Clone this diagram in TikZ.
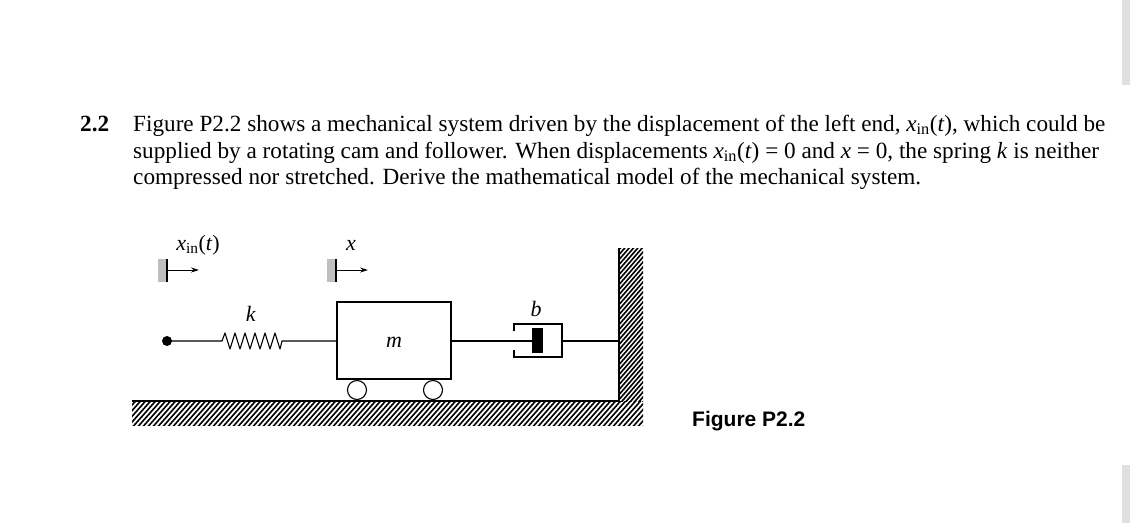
\documentclass[tikz,border=0pt]{standalone}
\usepackage{fontspec}
\setmainfont{Liberation Serif}
\newfontfamily\figsans{Liberation Sans}
\usetikzlibrary{arrows.meta}
\tikzset{
  txt/.style={anchor=base west,inner sep=0pt,font=\fontsize{23.2}{27}\selectfont},
  lbl/.style={inner sep=0pt,font=\fontsize{22}{26}\selectfont},
  ln/.style={line width=1.1pt},
  arr/.style={line width=0.9pt,-{Stealth[length=8pt,width=5pt]}},
  blk/.style={fill=black!25,draw=none},
}
\newcommand{\xin}{\textit{x}\textsubscript{in}(\textit{t})}
\begin{document}
\begin{tikzpicture}[x=1pt,y=-1pt]
\useasboundingbox (0,0) rectangle (1130,523);
\fill[black!12] (1122,0) rectangle (1130,85);
\fill[black!12] (1122,465) rectangle (1130,523);
% text
\node[txt,font=\bfseries\fontsize{23.2}{27}\selectfont] (num) at (80,131) {2.2};
\node[txt] (l1) at (133,131) {Figure P2.2 shows a mechanical system driven by the displacement of the left end, \xin, which could be};
\node[txt] (l2) at (133,158) {supplied by a rotating cam and follower. When displacements \xin\ = 0 and \textit{x} = 0, the spring \textit{k} is neither};
\node[txt] (l3) at (133,184) {compressed nor stretched. Derive the mathematical model of the mechanical system.};
% ground and wall hatching
\begin{scope}
\clip (132,401) rectangle (643,425);
\foreach \i in {0,5,...,560} \draw[line width=1.6pt] (100+\i,430) -- (130+\i,396);
\end{scope}
\begin{scope}
\clip (619,248) rectangle (643,401);
\foreach \i in {0,5,...,200} \draw[line width=1.6pt] (610,260+\i) -- (650,214+\i);
\end{scope}
\draw[ln] (132,401) -- (619,401) -- (619,248);
% input marker
\fill[blk] (158,259) rectangle (166,282);
\draw[ln] (167,259) -- (167,282);
\coordinate (ain) at (167,270);
\coordinate (ain2) at (199,270);
\draw[arr] (ain) -- (ain2);
\node[lbl] (xinl) at (198,245) {\xin};
% x marker
\fill[blk] (327,259) rectangle (335,282);
\draw[ln] (336,259) -- (336,282);
\coordinate (ax) at (336,270);
\coordinate (ax2) at (368,270);
\draw[arr] (ax) -- (ax2);
\node[lbl] (xl) at (351,245) {\textit{x}};
% spring
\node[circle,fill=black,inner sep=0pt,minimum size=10pt] (dot) at (167,341) {};
\node[draw,ln,minimum width=114pt,minimum height=77pt,inner sep=0pt] (mass) at (394,340.5) {};
\node[lbl] (ml) at (394,342) {\textit{m}};
\draw[ln,line join=round] (dot.center) -- (222,341) -- (225,333) -- (230,349) -- (235,333) -- (240,349) -- (245,333) -- (250,349) -- (255,333) -- (260,349) -- (265,333) -- (270,349) -- (275,333) -- (280,349) -- (282,341) -- (mass.west |- 0,341);
\node[lbl] (kl) at (251,314) {\textit{k}};
% wheels
\node[draw,ln,circle,minimum size=19pt,inner sep=0pt] (w1) at (357,390) {};
\node[draw,ln,circle,minimum size=19pt,inner sep=0pt] (w2) at (433,390) {};
% damper
\draw[ln] (mass.east |- 0,341) -- (533,341);
\fill (532,328) rectangle (543,353);
\draw[ln] (514,331) -- (514,324) -- (562,324) -- (562,357) -- (514,357) -- (514,350);
\draw[ln] (562,341) -- (619,341);
\node[lbl] (bl) at (536,309) {\textit{b}};
\node[anchor=base west,inner sep=0pt,font=\figsans\bfseries\fontsize{21}{24}\selectfont] (cap) at (692,426) {Figure P2.2};
\end{tikzpicture}
\end{document}
